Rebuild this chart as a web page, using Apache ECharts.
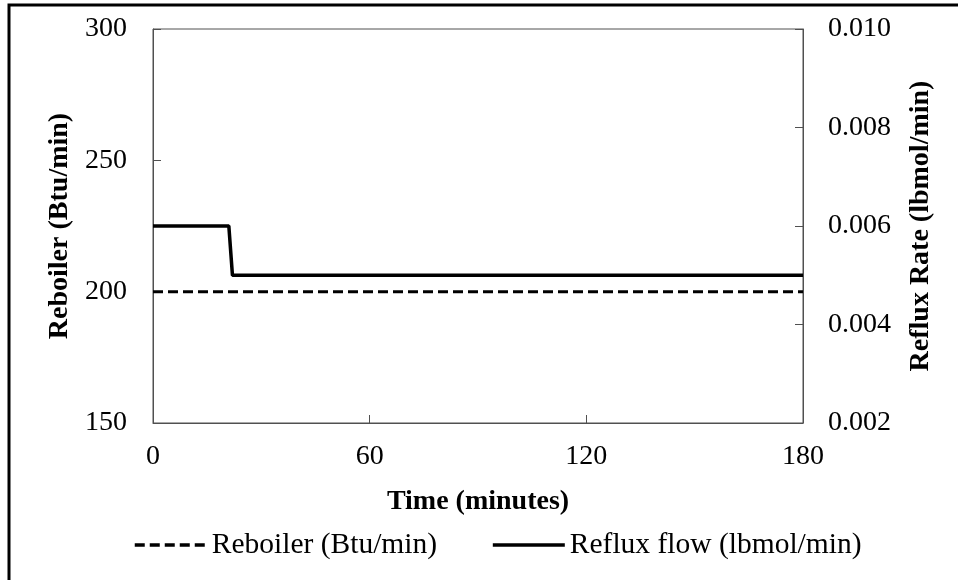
<!DOCTYPE html>
<html>
<head>
<meta charset="utf-8">
<script src="https://cdn.jsdelivr.net/npm/echarts@6/dist/echarts.min.js"></script>
<style>
  html, body { margin: 0; padding: 0; background: #fff; }
  #chart { width: 958px; height: 580px; }
</style>
</head>
<body>
<div id="chart"></div>
<script>
// Time axis (minutes)
const timeTicks = [0, 60, 120, 180];
// Reboiler duty, Btu/min (left axis)
const reboilerTime = [0, 180];
const reboilerValues = [200, 200];
// Reflux flow, lbmol/min (right axis)
const refluxTime = [0, 21, 22, 180];
const refluxValues = [0.006, 0.006, 0.005, 0.005];
// Axis tick labels
const leftTicks = [150, 200, 250, 300];
const rightTicks = [0.002, 0.004, 0.006, 0.008, 0.010];

const FONT = 'Liberation Serif, Times New Roman, serif';
const axisColor = '#505050';

const chart = echarts.init(document.getElementById('chart'), null, { renderer: 'canvas' });

const pairs = (xs, ys) => xs.map((x, i) => [x, ys[i]]);

chart.setOption({
  animation: false,
  backgroundColor: '#fff',
  textStyle: { fontFamily: FONT, color: '#000' },
  graphic: [{
    type: 'rect',
    shape: { x: 9, y: 5, width: 1200, height: 1200 },
    style: { fill: 'none', stroke: '#000', lineWidth: 3 },
    silent: true
  }],
  grid: {
    left: 153, top: 29, width: 650, height: 394,
    show: true, borderColor: axisColor, borderWidth: 1, backgroundColor: 'transparent'
  },
  legend: {
    left: 133, top: 530, padding: 0,
    itemWidth: 72, itemHeight: 14, itemGap: 54,
    // line-only keys: hide the marker symbol drawn on top of the line
    itemStyle: { opacity: 0, color: 'rgba(0,0,0,0)', borderWidth: 0 },
    lineStyle: { width: 3.5 },
    textStyle: { fontFamily: FONT, fontSize: 29.5, color: '#000' },
    data: ['Reboiler (Btu/min)', 'Reflux flow (lbmol/min)']
  },
  xAxis: {
    type: 'value',
    min: timeTicks[0], max: timeTicks[timeTicks.length - 1], interval: 60,
    name: 'Time (minutes)',
    nameLocation: 'middle', nameGap: 65,
    nameTextStyle: { fontFamily: FONT, fontSize: 28, fontWeight: 'bold', color: '#000' },
    axisLine: { show: true, lineStyle: { color: axisColor, width: 1 } },
    axisTick: { show: true, inside: true, length: 8, lineStyle: { color: axisColor } },
    axisLabel: { fontFamily: FONT, fontSize: 28, color: '#000', margin: 20 },
    splitLine: { show: false }
  },
  yAxis: [{
    type: 'value',
    min: leftTicks[0], max: leftTicks[leftTicks.length - 1], interval: 50,
    name: 'Reboiler (Btu/min)',
    nameLocation: 'middle', nameGap: 79, nameRotate: 90,
    nameTextStyle: { fontFamily: FONT, fontSize: 28, fontWeight: 'bold', color: '#000' },
    axisLine: { show: true, lineStyle: { color: axisColor, width: 1 } },
    axisTick: { show: true, inside: true, length: 8, lineStyle: { color: axisColor } },
    axisLabel: { fontFamily: FONT, fontSize: 28, color: '#000', margin: 26 },
    splitLine: { show: false }
  }, {
    type: 'value',
    position: 'right',
    min: rightTicks[0], max: rightTicks[rightTicks.length - 1], interval: 0.002,
    name: 'Reflux Rate (lbmol/min)',
    nameLocation: 'middle', nameGap: 104, nameRotate: 90,
    nameTextStyle: { fontFamily: FONT, fontSize: 28, fontWeight: 'bold', color: '#000' },
    axisLine: { show: true, lineStyle: { color: axisColor, width: 1 } },
    axisTick: { show: true, inside: true, length: 8, lineStyle: { color: axisColor } },
    axisLabel: { fontFamily: FONT, fontSize: 28, color: '#000', margin: 25,
      formatter: v => v.toFixed(3) },
    splitLine: { show: false }
  }],
  series: [{
    name: 'Reboiler (Btu/min)',
    type: 'line',
    yAxisIndex: 0,
    symbol: 'none',
    data: pairs(reboilerTime, reboilerValues),
    lineStyle: { color: '#000', width: 3, type: [10, 5] },
    itemStyle: { color: '#000' }
  }, {
    name: 'Reflux flow (lbmol/min)',
    type: 'line',
    yAxisIndex: 1,
    symbol: 'none',
    data: pairs(refluxTime, refluxValues),
    lineStyle: { color: '#000', width: 3.5, type: 'solid' },
    itemStyle: { color: '#000' }
  }]
});
</script>
</body>
</html>
